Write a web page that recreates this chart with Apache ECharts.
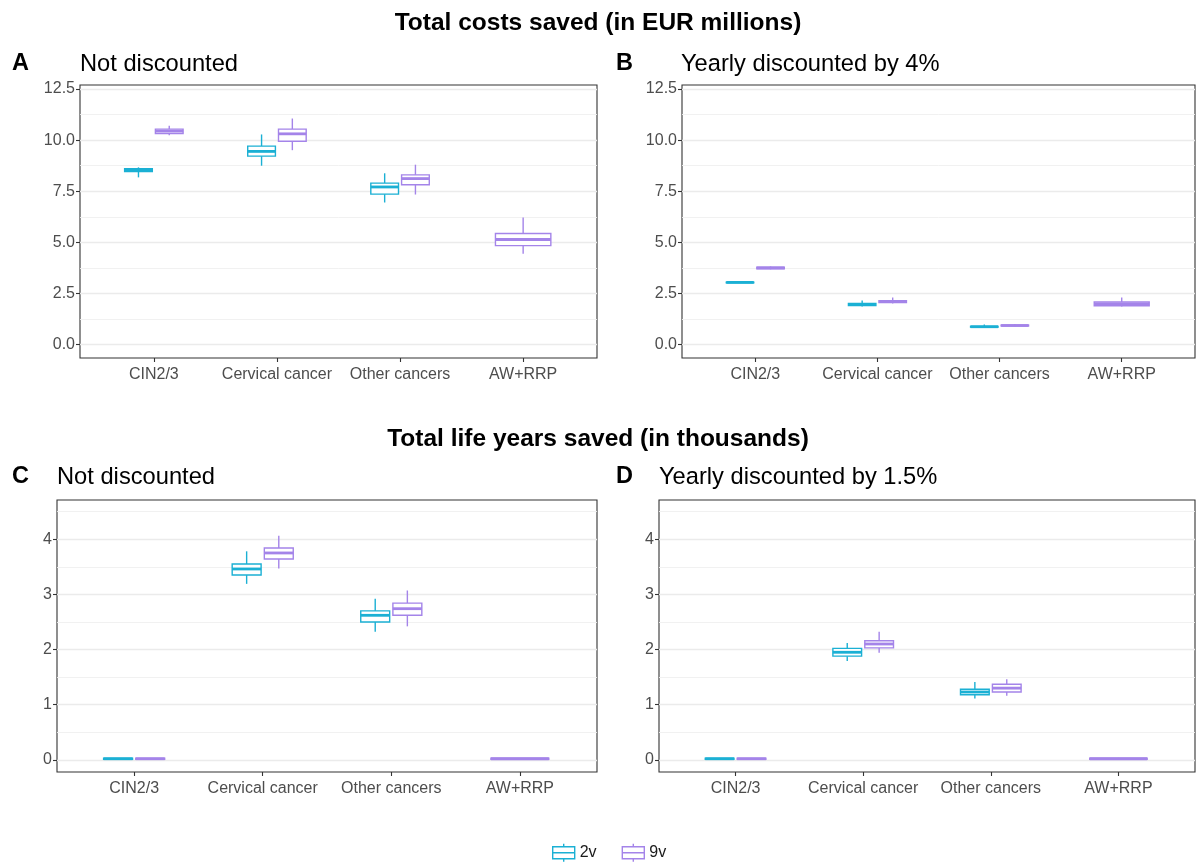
<!DOCTYPE html>
<html>
<head>
<meta charset="utf-8">
<script src="https://cdn.jsdelivr.net/npm/echarts@6/dist/echarts.min.js"></script>
<style>
html,body{margin:0;padding:0;background:#fff;}
#chart{width:1196px;height:863px;}
</style>
</head>
<body>
<div id="chart"></div>
<script>
// ---------- data ----------
const categories = ['CIN2/3', 'Cervical cancer', 'Other cancers', 'AW+RRP'];
const vaccines = ['2v', '9v'];
// each entry: [lower whisker, Q1, median, Q3, upper whisker]; null = not applicable
const costsNotDisc2v = [[8.18, 8.46, 8.53, 8.60, 8.67], [8.75, 9.22, 9.45, 9.71, 10.28], [6.95, 7.36, 7.71, 7.90, 8.38], null];
const costsNotDisc9v = [[10.24, 10.32, 10.44, 10.54, 10.70], [9.51, 9.95, 10.31, 10.54, 11.06], [7.34, 7.82, 8.12, 8.30, 8.80], [4.44, 4.84, 5.14, 5.43, 6.22]];
const costsDisc2v = [[3.01, 3.02, 3.04, 3.05, 3.07], [1.86, 1.91, 1.96, 2.01, 2.15], [0.81, 0.85, 0.87, 0.89, 0.98], null];
const costsDisc9v = [[3.68, 3.71, 3.75, 3.78, 3.82], [2.01, 2.05, 2.10, 2.15, 2.30], [0.89, 0.91, 0.93, 0.95, 1.01], [1.86, 1.90, 1.99, 2.08, 2.30]];
const lifeNotDisc2v = [[0.005, 0.01, 0.02, 0.03, 0.035], [3.19, 3.35, 3.46, 3.55, 3.78], [2.32, 2.50, 2.62, 2.70, 2.92], null];
const lifeNotDisc9v = [[0.005, 0.01, 0.02, 0.03, 0.035], [3.47, 3.64, 3.75, 3.84, 4.06], [2.42, 2.62, 2.74, 2.84, 3.07], [0.005, 0.01, 0.02, 0.03, 0.035]];
const lifeDisc2v = [[0.005, 0.01, 0.02, 0.03, 0.035], [1.79, 1.88, 1.95, 2.02, 2.12], [1.11, 1.18, 1.23, 1.28, 1.41], null];
const lifeDisc9v = [[0.005, 0.01, 0.02, 0.03, 0.035], [1.94, 2.03, 2.10, 2.16, 2.32], [1.16, 1.23, 1.30, 1.37, 1.46], [0.005, 0.01, 0.02, 0.03, 0.035]];
const costTicks = [0, 2.5, 5, 7.5, 10, 12.5];
const costMinorTicks = [1.25, 3.75, 6.25, 8.75, 11.25];
const lifeTicks = [0, 1, 2, 3, 4];
const lifeMinorTicks = [0.5, 1.5, 2.5, 3.5, 4.5];
const mainTitles = ['Total costs saved (in EUR millions)', 'Total life years saved (in thousands)'];
const panelLetters = ['A', 'B', 'C', 'D'];
const panelTitles = ['Not discounted', 'Yearly discounted by 4%', 'Not discounted', 'Yearly discounted by 1.5%'];

// ---------- styling ----------
const COL = { '2v': '#1BB0D4', '9v': '#A484E9' };
const FONT = 'Liberation Sans, Arial, sans-serif';

const panels = [
  { grid: { left: 80, top: 85, width: 517, height: 273 }, yMin: -0.66, yMax: 12.7, ticks: costTicks, minor: costMinorTicks, fmt: v => v.toFixed(1), d2: costsNotDisc2v, d9: costsNotDisc9v },
  { grid: { left: 682, top: 85, width: 513, height: 273 }, yMin: -0.66, yMax: 12.7, ticks: costTicks, minor: costMinorTicks, fmt: v => v.toFixed(1), d2: costsDisc2v, d9: costsDisc9v },
  { grid: { left: 57, top: 500, width: 540, height: 272 }, yMin: -0.22, yMax: 4.71, ticks: lifeTicks, minor: lifeMinorTicks, fmt: v => String(v), d2: lifeNotDisc2v, d9: lifeNotDisc9v },
  { grid: { left: 659, top: 500, width: 536, height: 272 }, yMin: -0.22, yMax: 4.71, ticks: lifeTicks, minor: lifeMinorTicks, fmt: v => String(v), d2: lifeDisc2v, d9: lifeDisc9v }
];

const grids = [], xAxes = [], yAxes = [], series = [];

function boxSeries(name, values, other, pIdx) {
  const color = COL[name];
  const data = [];
  values.forEach((v, i) => { if (v) data.push([i + 1].concat(v)); });
  return {
    type: 'custom',
    name: name,
    xAxisIndex: pIdx,
    yAxisIndex: pIdx * 2,
    itemStyle: { color: color },
    encode: { x: 0, y: [1, 2, 3, 4, 5] },
    data: data,
    renderItem: function (params, api) {
      const cat = api.value(0);
      const paired = other[cat - 1] != null;
      const side = name === '2v' ? -1 : 1;
      const center = paired ? cat + side * 0.125 : cat;
      const half = (paired ? 0.225 : 0.45) / 2;
      const xl = api.coord([center - half, 0])[0];
      const xr = api.coord([center + half, 0])[0];
      const xc = api.coord([center, 0])[0];
      const y = k => api.coord([center, api.value(k)])[1];
      const yLo = y(1), yQ1 = y(2), yMed = y(3), yQ3 = y(4), yHi = y(5);
      const lw = 1.4;
      return {
        type: 'group',
        children: [
          { type: 'line', shape: { x1: xc, y1: yQ3, x2: xc, y2: yHi }, style: { stroke: color, lineWidth: lw } },
          { type: 'line', shape: { x1: xc, y1: yQ1, x2: xc, y2: yLo }, style: { stroke: color, lineWidth: lw } },
          { type: 'rect', shape: { x: xl, y: yQ3, width: xr - xl, height: yQ1 - yQ3 }, style: { fill: '#fff', stroke: color, lineWidth: lw } },
          { type: 'line', shape: { x1: xl, y1: yMed, x2: xr, y2: yMed }, style: { stroke: color, lineWidth: lw * 2 } }
        ]
      };
    }
  };
}

panels.forEach((p, i) => {
  grids.push(Object.assign({ show: true, borderColor: '#333333', borderWidth: 1.1, backgroundColor: '#fff' }, p.grid));
  xAxes.push({
    type: 'value', gridIndex: i, min: 0.4, max: 4.6, position: 'bottom',
    axisLine: { show: false, onZero: false },
    splitLine: { show: false },
    axisTick: { show: true, length: 4, customValues: [1, 2, 3, 4], lineStyle: { color: '#333333', width: 1.1 } },
    axisLabel: { show: true, customValues: [1, 2, 3, 4], formatter: v => categories[Math.round(v) - 1], color: '#4D4D4D', fontSize: 16, fontFamily: FONT, margin: 9 }
  });
  yAxes.push({
    type: 'value', gridIndex: i, min: p.yMin, max: p.yMax, position: 'left',
    axisLine: { show: false, onZero: false },
    axisTick: { show: true, length: 4, customValues: p.ticks, lineStyle: { color: '#333333', width: 1.1 } },
    axisLabel: { show: true, customValues: p.ticks, formatter: p.fmt, color: '#4D4D4D', fontSize: 16, fontFamily: FONT, margin: 5 },
    splitLine: { show: true, lineStyle: { color: '#EBEBEB', width: 1.3 } }
  });
  yAxes.push({
    type: 'value', gridIndex: i, min: p.yMin, max: p.yMax, position: 'left',
    axisLine: { show: false, onZero: false },
    axisTick: { show: false, customValues: p.minor },
    axisLabel: { show: false, customValues: p.minor },
    splitLine: { show: true, lineStyle: { color: '#EFEFEF', width: 0.9 } }
  });
  series.push(boxSeries('2v', p.d2, p.d9, i));
  series.push(boxSeries('9v', p.d9, p.d2, i));
});

const titles = [
  { text: mainTitles[0], left: 'center', top: 11, padding: 0, textStyle: { fontFamily: FONT, fontSize: 24.5, fontWeight: 'bold', color: '#000' } },
  { text: mainTitles[1], left: 'center', top: 427, padding: 0, textStyle: { fontFamily: FONT, fontSize: 24.5, fontWeight: 'bold', color: '#000' } }
];
const letterPos = [[12, 52], [616, 52], [12, 465], [616, 465]];
const subPos = [[80, 52], [681, 52], [57, 465], [659, 465]];
panelLetters.forEach((t, i) => {
  titles.push({ text: t, left: letterPos[i][0], top: letterPos[i][1], padding: 0, textStyle: { fontFamily: FONT, fontSize: 23.5, fontWeight: 'bold', color: '#000' } });
  titles.push({ text: panelTitles[i], left: subPos[i][0], top: subPos[i][1], padding: 0, textStyle: { fontFamily: FONT, fontSize: 23.7, fontWeight: 'normal', color: '#000' } });
});

const legendIcon = 'path://M0,3H22V15H0Z M0,9H22 M11,0V3 M11,15V18';
const option = {
  animation: false,
  backgroundColor: '#fff',
  title: titles,
  grid: grids,
  xAxis: xAxes,
  yAxis: yAxes,
  series: series,
  legend: {
    top: 843, left: 552, padding: 0,
    itemWidth: 22, itemHeight: 18, itemGap: 25,
    icon: legendIcon,
    textStyle: { fontFamily: FONT, fontSize: 16, color: '#1A1A1A' },
    data: vaccines.map(v => ({ name: v, itemStyle: { color: '#fff', borderColor: COL[v], borderWidth: 1.4 } }))
  }
};
const chart = echarts.init(document.getElementById('chart'), null, { renderer: 'canvas' });
chart.setOption(option);
</script>
</body>
</html>
